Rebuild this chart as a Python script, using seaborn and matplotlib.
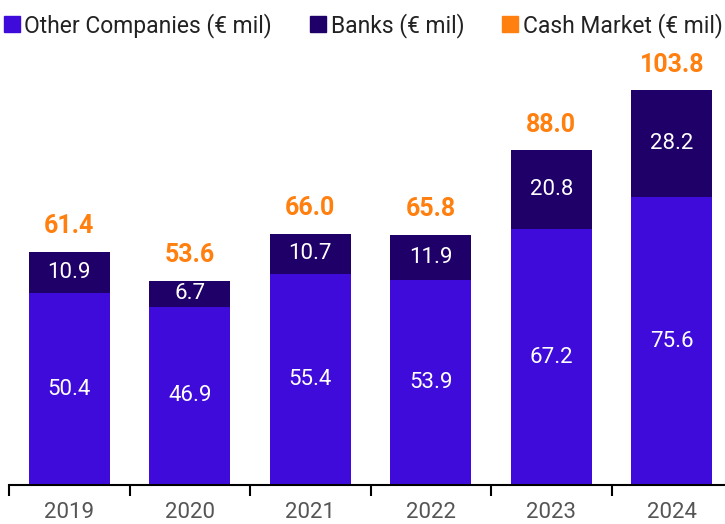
import matplotlib
matplotlib.use("Agg")
import numpy as np
import pandas as pd
import matplotlib.pyplot as plt
import seaborn as sns
from matplotlib.lines import Line2D

years = ["2019", "2020", "2021", "2022", "2023", "2024"]
other_companies = [50.4, 46.9, 55.4, 53.9, 67.2, 75.6]
banks = [10.9, 6.7, 10.7, 11.9, 20.8, 28.2]
cash_market = [61.4, 53.6, 66.0, 65.8, 88.0, 103.8]

c_other = "#3F0BDB"
c_banks = "#1E0068"
c_cash = "#FF7F0F"

sns.set_theme(style="white")
plt.rcParams['font.family'] = ['Roboto', 'DejaVu Sans']

df = pd.DataFrame({"year": years, "other": other_companies, "banks": banks})

fig = plt.figure(figsize=(7.25, 5.24), dpi=100)
ax = fig.add_axes([9 / 725, 39 / 524, 723 / 725, 445 / 524])

sns.barplot(data=df, x="year", y="other", color=c_other, width=0.672,
            saturation=1, linewidth=0, ax=ax)
sns.barplot(data=df, x="year", y="banks", color=c_banks, width=0.672,
            saturation=1, linewidth=0, bottom=df["other"], ax=ax)

# value labels
for i in range(len(years)):
    ax.text(i, other_companies[i] / 2, f"{other_companies[i]:.1f}", ha="center",
            va="center", color="white", fontsize=16)
    ax.text(i, other_companies[i] + banks[i] / 2, f"{banks[i]:.1f}", ha="center",
            va="center", color="white", fontsize=16)
    ax.text(i, cash_market[i] + 3.6, f"{cash_market[i]:.1f}", ha="center",
            va="bottom", color=c_cash, fontsize=18, fontweight="bold")

ax.set_ylim(0, 117)
ax.set_xlim(-0.5, 5.5)
ax.set_yticks([])
ax.set_xlabel("")
ax.set_ylabel("")

# ticks at category boundaries, labels centered
ax.set_xticks(np.arange(-0.5, 6, 1.0))
ax.set_xticklabels([])
ax.set_xticks(np.arange(len(years)), minor=True)
ax.set_xticklabels(years, minor=True)
ax.tick_params(axis="x", which="major", bottom=True, length=8, width=1.5,
               color="black", direction="out")
ax.tick_params(axis="x", which="minor", bottom=True, length=0, pad=12,
               labelsize=16, labelcolor="#555555")

for s in ["top", "right", "left"]:
    ax.spines[s].set_visible(False)
ax.spines["bottom"].set_color("black")
ax.spines["bottom"].set_linewidth(1.5)

handles = [
    Line2D([], [], marker="s", linestyle="", color=c_other, markersize=11),
    Line2D([], [], marker="s", linestyle="", color=c_banks, markersize=11),
    Line2D([], [], marker="s", linestyle="", color=c_cash, markersize=11),
]
labels = ["Other Companies (€ mil)", "Banks (€ mil)", "Cash Market (€ mil)"]
fig.legend(handles, labels, loc="upper center", bbox_to_anchor=(0.5, 1.015),
           ncol=3, frameon=False, fontsize=16.5, handlelength=0.8,
           handletextpad=0.15, columnspacing=1.6, labelcolor="#222222")

fig.savefig("out.png", dpi=100)
